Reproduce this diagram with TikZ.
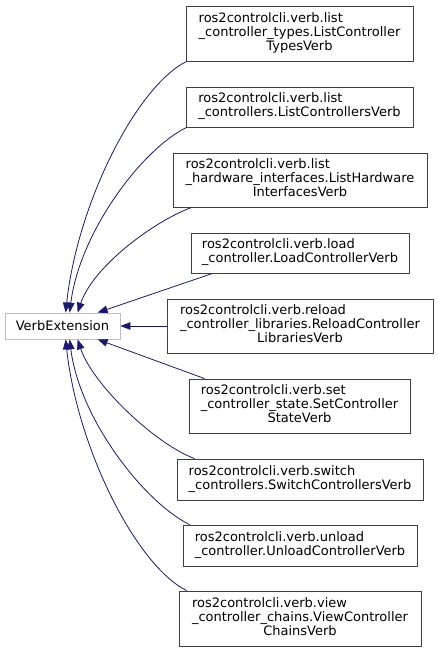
\documentclass[tikz,border=0pt]{standalone}
\usepackage{fontspec}
\setmainfont{DejaVu Sans}
\usepackage{tikz}
\usetikzlibrary{arrows.meta}
\definecolor{edgeblue}{HTML}{191970}
\tikzset{
  cls/.style  ={rectangle,draw=black!75,line width=0.8pt,fill=white,
                inner sep=0pt,font=\fontsize{13}{14}\selectfont},
  base/.style ={cls,draw=black!25},
  ed/.style   ={-{Triangle[length=10pt,width=7.5pt]},draw=edgeblue,
                line width=0.8pt},
}
% label with left-set lines and a centred last line
\newcommand{\twolab}[2]{\begin{tabular}{@{}l@{}}#1\\\multicolumn{1}{@{}c@{}}{#2}\end{tabular}}
\newcommand{\threelab}[3]{\begin{tabular}{@{}l@{}}#1\\#2\\\multicolumn{1}{@{}c@{}}{#3}\end{tabular}}

\begin{document}
\begin{tikzpicture}[x=1pt, y=-1pt]
\useasboundingbox (0,0) rectangle (437,652);

%% ---------------- base class ----------------
\node[base,minimum width=115pt,minimum height=26pt] (ve) at (62.5,326) {VerbExtension};

%% ---------------- derived verbs ----------------
\node[cls,minimum width=227pt,minimum height=55pt] (types) at (299.5,33.5)
  {\threelab{ros2controlcli.verb.list}{\_controller\_types.ListController}{TypesVerb}};
\node[cls,minimum width=227pt,minimum height=40pt] (ctrls) at (299.5,107)
  {\twolab{ros2controlcli.verb.list}{\_controllers.ListControllersVerb}};
\node[cls,minimum width=254pt,minimum height=54pt] (hw) at (300,180)
  {\threelab{ros2controlcli.verb.list}{\_hardware\_interfaces.ListHardware}{InterfacesVerb}};
\node[cls,minimum width=218pt,minimum height=40pt] (load) at (300,253)
  {\twolab{ros2controlcli.verb.load}{\_controller.LoadControllerVerb}};
\node[cls,minimum width=266pt,minimum height=54pt] (reload) at (300,326)
  {\threelab{ros2controlcli.verb.reload}{\_controller\_libraries.ReloadController}{LibrariesVerb}};
\node[cls,minimum width=221pt,minimum height=54pt] (setst) at (299.5,406)
  {\threelab{ros2controlcli.verb.set}{\_controller\_state.SetController}{StateVerb}};
\node[cls,minimum width=246pt,minimum height=41pt] (switch) at (300,479.5)
  {\twolab{ros2controlcli.verb.switch}{\_controllers.SwitchControllersVerb}};
\node[cls,minimum width=234pt,minimum height=41pt] (unload) at (300,545.5)
  {\twolab{ros2controlcli.verb.unload}{\_controller.UnloadControllerVerb}};
\node[cls,minimum width=242pt,minimum height=55pt] (view) at (300,618.5)
  {\threelab{ros2controlcli.verb.view}{\_controller\_chains.ViewController}{ChainsVerb}};

%% ---------------- inheritance edges ----------------
%% upper half: leave the lower left of each box, land on top of the base
\foreach \u/\sx/\tx/\ax/\ay/\bx/\by in {
    types/1/61/-50/25/12/-110,
    ctrls/1/65/-45/22/10/-80,
    hw/19/73/-40/15/15/-45}{
  \draw[ed] ([xshift=\sx]\u.south west) .. controls +(\ax,\ay) and +(\bx,\by)
    .. ([xshift=\tx]ve.north west);
}
\draw[ed] ([xshift=22]load.south west) -- ([xshift=93]ve.north west);
\draw[ed] (reload) -- (ve);
%% lower half: mirror image
\draw[ed] ([xshift=16]setst.north west) -- ([xshift=93]ve.south west);
\foreach \u/\sx/\tx/\ax/\ay/\bx/\by in {
    switch/18/73/-40/-15/15/45,
    unload/7/65/-45/-22/10/80,
    view/8/61/-50/-25/12/110}{
  \draw[ed] ([xshift=\sx]\u.north west) .. controls +(\ax,\ay) and +(\bx,\by)
    .. ([xshift=\tx]ve.south west);
}

\end{tikzpicture}
\end{document}
